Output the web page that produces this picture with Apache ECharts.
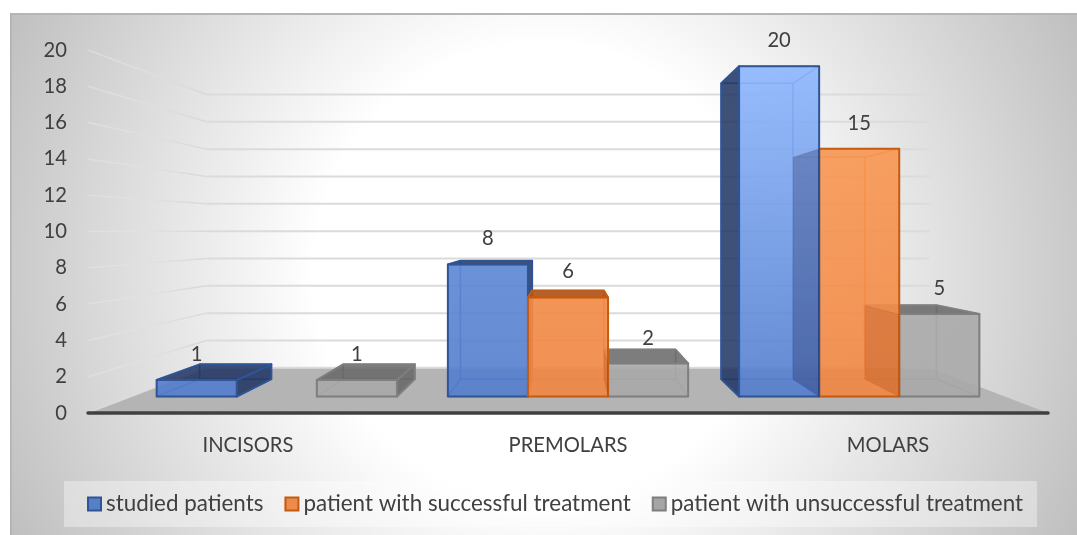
<!DOCTYPE html>
<html>
<head>
<meta charset="utf-8">
<style>html,body{margin:0;padding:0;background:#fff}#chart{width:1077px;height:535px}</style>
<script src="https://cdn.jsdelivr.net/npm/echarts@6/dist/echarts.min.js"></script>
</head>
<body>
<div id="chart"></div>
<script>
// Patient counts per tooth group
const categories = ['INCISORS', 'PREMOLARS', 'MOLARS'];
const studied = [1, 8, 20];
const successful = [null, 6, 15];
const unsuccessful = [1, 2, 5];
const gridValues = [0, 2, 4, 6, 8, 10, 12, 14, 16, 18, 20];
const seriesNames = ['studied patients', 'patient with successful treatment', 'patient with unsuccessful treatment'];

// Box styling per series; veil is the tint a box's front lays over whatever sits behind it
const palette = [
  { base: [82, 124, 204], high: [143, 184, 255], edge: '#2f5597', inner: 'rgba(47,95,190,0.55)', dark: 'rgba(28,48,92,0.82)', legend: '#5580c8', veil: 'rgba(5,10,60,0.24)' },
  { base: [240, 134, 66], high: [254, 164, 96], edge: '#c55a11', inner: 'rgba(235,115,35,0.6)', dark: 'rgba(170,80,20,0.88)', legend: '#ed8b4a', veil: 'rgba(150,45,0,0.22)' },
  { base: [169, 169, 169], high: [178, 178, 178], edge: '#7f7f7f', inner: 'rgba(125,125,125,0.55)', dark: 'rgba(100,100,100,0.82)', legend: '#a5a5a5', veil: 'rgba(90,90,90,0.3)' }
];

// Perspective of the plot: the axes describe the front plane, depth scales towards a vanishing point
const VANISH_Y = 230;
const WALL_DEPTH = 0.753;
const BAR_FRONT = 0.91;
const BAR_BACK = 0.815;
const GAP = 0.318;
const FRONT_ALPHA = 0.88;
const TEXT = '#404040';
const FONT = 'Lato';
const AXIS_SIZE = 20.2;
const LEGEND_SIZE = 22.4;

function project(vx, x, y, s) {
  return [vx + (x - vx) * s, VANISH_Y + (y - VANISH_Y) * s];
}
function mix(a, b, t, alpha) {
  const c = a.map((v, i) => Math.round(v + (b[i] - v) * t));
  return 'rgba(' + c.join(',') + ',' + alpha + ')';
}

function renderBox(k) {
  return function (params, api) {
    const val = api.value(1);
    if (!(val > 0)) return;
    const cat = api.value(0);
    const style = palette[k];
    const cs = params.coordSys;
    const vx = cs.x + cs.width / 2;
    const w = api.size([1, 0])[0] / (3 + 2 * GAP);
    const foot = api.coord([cat, 0]);
    const head = api.coord([cat, val]);
    const x0 = foot[0] - 1.5 * w + k * w;
    const x1 = x0 + w;
    const P = (x, y, s) => project(vx, x, y, s);

    const fBL = P(x0, foot[1], BAR_FRONT), fBR = P(x1, foot[1], BAR_FRONT);
    const fTL = P(x0, head[1], BAR_FRONT), fTR = P(x1, head[1], BAR_FRONT);
    const bBL = P(x0, foot[1], BAR_BACK), bBR = P(x1, foot[1], BAR_BACK);
    const bTL = P(x0, head[1], BAR_BACK), bTR = P(x1, head[1], BAR_BACK);

    const order = 1000 - Math.round(Math.abs((x0 + x1) / 2 - vx));
    const base = order * 10;
    const face = (points, fill, stroke, lw, z) => ({
      type: 'polygon', silent: true, z2: base + z,
      shape: { points: points },
      style: { fill: fill, stroke: stroke, lineWidth: lw, lineJoin: 'round' }
    });
    const insideFill = mix(style.base, style.high, 0.4, 0.22);

    const leftOuter = bTL[0] < fTL[0];
    const rightOuter = bTR[0] > fTR[0];
    const topOuter = bTL[1] < fTL[1];

    const kids = [
      face([bBL, bBR, bTR, bTL], insideFill, style.inner, 1.5, 0),
      face([fBL, fBR, bBR, bBL], insideFill, style.inner, 1.5, 1),
      rightOuter
        ? face([fBR, bBR, bTR, fTR], style.dark, style.edge, 2, 3)
        : face([fBR, bBR, bTR, fTR], insideFill, style.inner, 1.5, 2),
      topOuter
        ? face([fTL, fTR, bTR, bTL], style.dark, style.edge, 2, 4)
        : face([fTL, fTR, bTR, bTL], insideFill, style.inner, 1.5, 2)
    ];
    if (!leftOuter) {
      kids.push(face([fBL, bBL, bTL, fTL], insideFill, style.inner, 1.5, 2));
    } else if (k === 0) {
      kids.push(face([fBL, bBL, bTL, fTL], style.dark, style.edge, 2, 3));
    } else {
      // The left side sits behind the neighbouring box, so it shows through that box's front
      const side = face([fBL, bBL, bTL, fTL], palette[k - 1].veil, null, 0, 0);
      side.z2 = 90000;
      kids.push(side);
    }

    const shade = Math.pow(val / 20, 2);
    kids.push(face([fTL, fTR, fBR, fBL], {
      type: 'linear', x: 0, y: 0, x2: 0, y2: 1,
      colorStops: [
        { offset: 0, color: mix(style.base, style.high, shade, FRONT_ALPHA) },
        { offset: 1, color: mix(style.base, style.base, 0, FRONT_ALPHA) }
      ]
    }, style.edge, 2, 5));
    kids.push({
      type: 'text', silent: true, z2: 100000,
      style: {
        x: (fTL[0] + fTR[0]) / 2, y: fTL[1] - 25.5,
        text: String(val), fill: TEXT,
        font: AXIS_SIZE + 'px ' + FONT, textAlign: 'center', textVerticalAlign: 'middle'
      }
    });
    return { type: 'group', children: kids };
  };
}

// Floor of the plot
function renderFloor(params, api) {
  const cs = params.coordSys;
  const vx = cs.x + cs.width / 2;
  const y = api.coord([0, 0])[1];
  const L = cs.x, R = cs.x + cs.width;
  return {
    type: 'polygon', silent: true,
    shape: { points: [[L, y], [R, y], project(vx, R, y, WALL_DEPTH), project(vx, L, y, WALL_DEPTH)] },
    style: { fill: '#b4b4b4' }
  };
}

// Gridline running along the left wall and across the back wall
function renderGridline(params, api) {
  const cs = params.coordSys;
  const vx = cs.x + cs.width / 2;
  const y = api.coord([0, api.value(0)])[1];
  const a = [cs.x, y];
  const b = project(vx, cs.x, y, WALL_DEPTH);
  const c = project(vx, cs.x + cs.width, y, WALL_DEPTH);
  return {
    type: 'group', children: [
      {
        type: 'polyline', silent: true, shape: { points: [a, b] },
        style: {
          lineWidth: 1.5, fill: null,
          stroke: {
            type: 'linear', global: true, x: a[0], y: 0, x2: b[0], y2: 0,
            colorStops: [
              { offset: 0, color: 'rgba(232,232,232,0.45)' },
              { offset: 1, color: 'rgba(216,216,216,1)' }
            ]
          }
        }
      },
      { type: 'polyline', silent: true, shape: { points: [b, c] }, style: { stroke: '#dbdbdb', lineWidth: 2, fill: null } }
    ]
  };
}

const boxSeries = [studied, successful, unsuccessful].map((values, k) => ({
  type: 'custom',
  name: seriesNames[k],
  coordinateSystem: 'cartesian2d',
  renderItem: renderBox(k),
  encode: { x: 0, y: 1 },
  itemStyle: { color: palette[k].legend, borderColor: palette[k].edge, borderWidth: 2 },
  data: values.map((v, i) => [i, v]),
  z: 3
}));

const chart = echarts.init(document.getElementById('chart'), null, { renderer: 'canvas' });
chart.setOption({
  animation: false,
  backgroundColor: 'transparent',
  textStyle: { fontFamily: FONT },
  graphic: [
    {
      type: 'rect', silent: true, z: 0,
      shape: { x: 10, y: 14, width: 1067, height: 521 },
      style: {
        fill: {
          type: 'radial', global: true, x: 543, y: 272, r: 600,
          colorStops: [
            { offset: 0, color: '#ffffff' },
            { offset: 0.38, color: '#ffffff' },
            { offset: 1, color: '#bebebe' }
          ]
        }
      }
    },
    { type: 'rect', silent: true, z: 0, shape: { x: 10, y: 13, width: 1067, height: 2 }, style: { fill: '#b6b6b6' } },
    { type: 'rect', silent: true, z: 0, shape: { x: 10, y: 14, width: 1.5, height: 521 }, style: { fill: 'rgba(170,170,170,0.7)' } }
  ],
  grid: { left: 88, top: 50, width: 960, height: 363 },
  xAxis: {
    type: 'category',
    data: categories,
    z: 6,
    axisTick: { show: false },
    axisLine: { lineStyle: { color: '#404040', width: 3.5, cap: 'round' } },
    axisLabel: { color: TEXT, fontSize: AXIS_SIZE, fontFamily: FONT, margin: 22 }
  },
  yAxis: {
    type: 'value', min: 0, max: 20, interval: 2,
    axisLine: { show: false },
    axisTick: { show: false },
    splitLine: { show: false },
    axisLabel: { color: TEXT, fontSize: AXIS_SIZE, fontFamily: FONT, margin: 21 }
  },
  legend: {
    data: seriesNames,
    left: 64, top: 481,
    padding: [12, 14, 12, 23],
    backgroundColor: 'rgba(255,255,255,0.36)',
    itemWidth: 13, itemHeight: 13, itemGap: 21,
    icon: 'rect',
    textStyle: { color: TEXT, fontSize: LEGEND_SIZE, fontFamily: FONT }
  },
  series: [
    { type: 'custom', coordinateSystem: 'cartesian2d', renderItem: renderFloor, data: [[0]], encode: { x: -1, y: -1 }, z: 1 },
    { type: 'custom', coordinateSystem: 'cartesian2d', renderItem: renderGridline, data: gridValues.map(v => [v]), encode: { x: -1, y: -1 }, z: 2 }
  ].concat(boxSeries)
});
</script>
</body>
</html>
